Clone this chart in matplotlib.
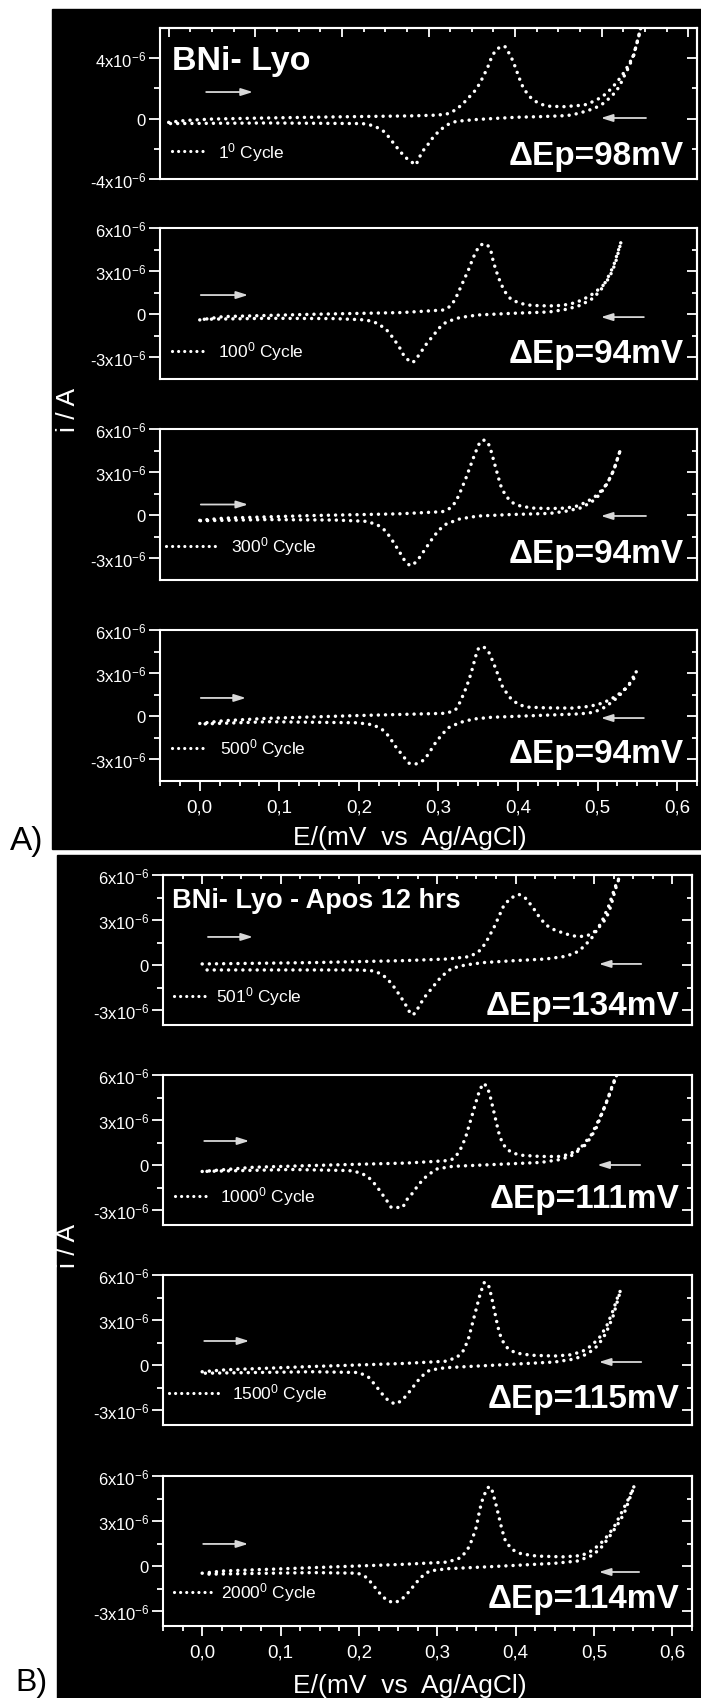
import matplotlib
matplotlib.use("Agg")
import matplotlib.pyplot as plt
from matplotlib import font_manager
from matplotlib.patches import Rectangle
from matplotlib.ticker import FixedLocator, MultipleLocator
import numpy as np

# ---------------------------------------------------------------- fonts
available = {f.name for f in font_manager.fontManager.ttflist}
FONT = 'Liberation Sans Narrow' if 'Liberation Sans Narrow' in available else 'Liberation Sans'
plt.rcParams['font.family'] = [FONT, 'DejaVu Sans']
plt.rcParams['mathtext.fontset'] = 'custom'
plt.rcParams['mathtext.rm'] = FONT
plt.rcParams['mathtext.it'] = FONT
plt.rcParams['mathtext.bf'] = FONT + ':bold'
plt.rcParams['mathtext.default'] = 'regular'

# ---------------------------------------------------------------- data
# cyclic voltammograms: (E / V, i / uA), forward (anodic) then reverse scan
cycles_A = ["1", "100", "300", "500"]
cycles_B = ["501", "1000", "1500", "2000"]
dEp_A = [98, 94, 94, 94]
dEp_B = [134, 111, 115, 114]

fwd_1 = [(0.0, -0.25), (0.02, -0.12), (0.05, -0.03), (0.1, 0.03), (0.2, 0.12), (0.28, 0.18),
         (0.31, 0.23), (0.316, 0.27), (0.323, 0.33), (0.332, 0.6), (0.34, 1.0), (0.348, 1.49),
         (0.355, 1.93), (0.36, 2.42), (0.364, 2.89), (0.368, 3.33), (0.371, 3.82), (0.377, 4.5),
         (0.384, 4.8), (0.389, 4.75), (0.394, 4.22), (0.398, 3.76), (0.401, 3.27), (0.404, 2.82),
         (0.407, 2.33), (0.411, 1.89), (0.4175, 1.42), (0.425, 1.09), (0.433, 0.89), (0.44, 0.82),
         (0.456, 0.79), (0.474, 0.87), (0.482, 0.93), (0.49, 1.13), (0.498, 1.36), (0.506, 1.69),
         (0.514, 2.18), (0.521, 2.67), (0.527, 3.16), (0.532, 3.67), (0.537, 4.2), (0.5405, 5.0),
         (0.545, 6.0)]
rev_1 = [(0.545, 6.0), (0.5425, 5.38), (0.5386, 4.6), (0.535, 3.93), (0.531, 3.38), (0.525, 2.71),
         (0.521, 2.2), (0.516, 1.76), (0.508, 1.31), (0.5, 0.93), (0.4925, 0.71), (0.484, 0.53),
         (0.475, 0.38), (0.4675, 0.27), (0.46, 0.2), (0.452, 0.18), (0.429, 0.13), (0.402, 0.09),
         (0.373, 0.0), (0.353, -0.07), (0.332, -0.18), (0.322, -0.4), (0.314, -0.73), (0.306, -1.18),
         (0.3, -1.67), (0.293, -2.18), (0.288, -2.73), (0.2857, -3.07), (0.2765, -2.73),
         (0.269, -2.29), (0.2625, -1.84), (0.256, -1.36), (0.25, -0.91), (0.242, -0.62),
         (0.234, -0.44), (0.224, -0.33), (0.115, -0.29), (0.0, -0.33)]

fwd_2 = [(0.0, -0.39), (0.0295, -0.16), (0.1416, 0.0), (0.254, 0.12), (0.307, 0.3), (0.3155, 0.58),
         (0.321, 1.04), (0.3267, 1.73), (0.3323, 2.42), (0.338, 3.12), (0.3436, 3.93), (0.3492, 4.55),
         (0.3537, 4.85), (0.3615, 4.85), (0.366, 4.39), (0.3688, 3.7), (0.3727, 3.0), (0.3772, 2.31),
         (0.3828, 1.62), (0.3912, 1.04), (0.4025, 0.76), (0.4165, 0.62), (0.4389, 0.58),
         (0.4558, 0.62), (0.4726, 0.81), (0.4838, 1.09), (0.495, 1.45), (0.5062, 1.96), (0.513, 2.42),
         (0.5186, 3.0), (0.5231, 3.7), (0.527, 4.5), (0.5298, 5.08)]
rev_2 = [(0.5298, 5.08), (0.52, 3.35), (0.5118, 2.42), (0.5034, 1.62), (0.4922, 1.04), (0.4782, 0.62),
         (0.4613, 0.35), (0.4389, 0.16), (0.394, 0.07), (0.349, -0.05), (0.3267, -0.23), (0.31, -0.53),
         (0.3016, -0.92), (0.2931, -1.5), (0.2847, -2.08), (0.2763, -2.77), (0.2696, -3.28),
         (0.2651, -3.35), (0.2567, -2.89), (0.2511, -2.31), (0.2427, -1.62), (0.2342, -1.04),
         (0.223, -0.62), (0.2089, -0.39), (0.1697, -0.3), (0.0856, -0.28), (0.0, -0.35)]

fwd_3 = [(0.0, -0.35), (0.03, -0.2), (0.14, -0.02), (0.25, 0.1), (0.305, 0.25), (0.315, 0.5),
         (0.322, 0.95), (0.328, 1.7), (0.334, 2.5), (0.34, 3.4), (0.346, 4.3), (0.351, 4.95),
         (0.356, 5.25), (0.362, 5.1), (0.366, 4.5), (0.37, 3.7), (0.374, 2.9), (0.378, 2.1),
         (0.384, 1.4), (0.392, 0.9), (0.404, 0.62), (0.42, 0.5), (0.44, 0.47), (0.46, 0.5),
         (0.475, 0.65), (0.487, 0.95), (0.498, 1.35), (0.508, 1.9), (0.516, 2.6), (0.522, 3.4),
         (0.526, 4.1), (0.529, 4.6)]
rev_3 = [(0.529, 4.6), (0.52, 3.1), (0.512, 2.2), (0.503, 1.45), (0.492, 0.9), (0.478, 0.5),
         (0.46, 0.28), (0.44, 0.13), (0.39, 0.05), (0.35, -0.05), (0.327, -0.25), (0.31, -0.6),
         (0.3, -1.05), (0.292, -1.65), (0.284, -2.3), (0.276, -2.95), (0.269, -3.4), (0.264, -3.5),
         (0.257, -3.1), (0.25, -2.45), (0.242, -1.75), (0.234, -1.1), (0.223, -0.65), (0.209, -0.42),
         (0.17, -0.33), (0.085, -0.3), (0.0, -0.38)]

fwd_4 = [(0.0, -0.5), (0.0297, -0.31), (0.0859, -0.14), (0.1981, 0.05), (0.3103, 0.21), (0.3215, 0.45),
         (0.3272, 0.99), (0.3328, 1.7), (0.3384, 2.53), (0.3429, 3.36), (0.3468, 4.18), (0.3507, 4.78),
         (0.358, 4.78), (0.3636, 4.42), (0.3692, 3.71), (0.3749, 2.88), (0.3805, 2.06), (0.3889, 1.35),
         (0.4001, 0.83), (0.4113, 0.64), (0.4338, 0.59), (0.4675, 0.57), (0.4899, 0.69), (0.5067, 0.92),
         (0.518, 1.23), (0.5292, 1.63), (0.5376, 2.06), (0.5449, 2.53), (0.5488, 3.12)]
rev_4 = [(0.5488, 3.12), (0.5404, 2.29), (0.532, 1.7), (0.5208, 1.11), (0.5095, 0.64), (0.4955, 0.28),
         (0.4787, 0.17), (0.4226, 0.05), (0.3664, -0.07), (0.344, -0.19), (0.3272, -0.43), (0.3131, -0.78),
         (0.3047, -1.25), (0.2963, -1.84), (0.289, -2.48), (0.2823, -3.03), (0.2711, -3.33),
         (0.2626, -3.26), (0.2542, -2.67), (0.2458, -2.08), (0.2374, -1.37), (0.229, -0.9),
         (0.2177, -0.59), (0.1981, -0.45), (0.0859, -0.38), (0.0, -0.54)]

fwd_5 = [(0.0, 0.07), (0.1416, 0.16), (0.2558, 0.29), (0.3129, 0.4), (0.3414, 0.56), (0.3528, 0.89),
         (0.3614, 1.44), (0.3671, 2.0), (0.3728, 2.56), (0.3785, 3.22), (0.3842, 3.89), (0.3928, 4.44),
         (0.4042, 4.71), (0.4128, 4.44), (0.4213, 3.89), (0.4299, 3.22), (0.4385, 2.67), (0.4499, 2.33),
         (0.4642, 2.07), (0.4785, 1.89), (0.4899, 1.93), (0.4984, 2.11), (0.507, 2.56), (0.5156, 3.11),
         (0.5213, 3.89), (0.527, 5.0), (0.5327, 5.89)]
rev_5 = [(0.5327, 5.89), (0.527, 5.22), (0.5184, 3.89), (0.5099, 2.89), (0.4984, 1.89), (0.487, 1.22),
         (0.4756, 0.78), (0.4613, 0.56), (0.4385, 0.4), (0.3985, 0.29), (0.3585, 0.16), (0.3357, 0.0),
         (0.3186, -0.22), (0.31, -0.56), (0.3014, -1.0), (0.2929, -1.56), (0.2843, -2.11),
         (0.2775, -2.67), (0.2718, -3.22), (0.2672, -3.33), (0.2644, -3.11), (0.2586, -2.56),
         (0.2518, -2.0), (0.2444, -1.44), (0.2358, -0.89), (0.2272, -0.56), (0.2158, -0.38),
         (0.1987, -0.33), (0.0, -0.33)]

fwd_6 = [(0.0, -0.43), (0.0653, -0.15), (0.163, 0.0), (0.2608, 0.13), (0.3097, 0.28), (0.3194, 0.39),
         (0.3267, 0.78), (0.3316, 1.26), (0.3365, 1.91), (0.3414, 2.78), (0.3463, 3.65), (0.3512, 4.52),
         (0.3546, 5.07), (0.3595, 5.45), (0.3644, 5.13), (0.3683, 4.41), (0.3722, 3.54), (0.3756, 2.78),
         (0.3791, 2.02), (0.383, 1.48), (0.3888, 1.04), (0.3976, 0.78), (0.4074, 0.65), (0.4318, 0.57),
         (0.4563, 0.57), (0.4685, 0.72), (0.4783, 1.0), (0.488, 1.3), (0.4954, 1.8), (0.5027, 2.46),
         (0.51, 3.43), (0.5174, 4.41), (0.5247, 5.5), (0.529, 6.0)]
rev_6 = [(0.529, 6.0), (0.5137, 3.87), (0.504, 2.78), (0.4966, 2.02), (0.4883, 1.48), (0.4795, 0.93),
         (0.4697, 0.57), (0.4551, 0.35), (0.4318, 0.17), (0.3585, 0.0), (0.3194, -0.09), (0.2999, -0.26),
         (0.2901, -0.59), (0.2828, -0.91), (0.2755, -1.35), (0.2682, -1.89), (0.2608, -2.33),
         (0.2559, -2.83), (0.2412, -2.83), (0.2363, -2.43), (0.229, -1.89), (0.2217, -1.35),
         (0.2119, -0.8), (0.2021, -0.52), (0.1874, -0.37), (0.1141, -0.3), (0.0, -0.43)]

fwd_7 = [(0.0, -0.45), (0.03, -0.32), (0.14, -0.1), (0.256, 0.1), (0.31, 0.25), (0.325, 0.5),
         (0.334, 1.0), (0.34, 1.8), (0.345, 2.8), (0.35, 3.8), (0.355, 4.8), (0.36, 5.5), (0.365, 5.4),
         (0.369, 4.6), (0.373, 3.6), (0.377, 2.6), (0.382, 1.7), (0.39, 1.1), (0.4, 0.8), (0.42, 0.65),
         (0.45, 0.6), (0.47, 0.68), (0.485, 0.9), (0.497, 1.3), (0.508, 1.9), (0.517, 2.7),
         (0.524, 3.6), (0.53, 4.5), (0.534, 5.0)]
rev_7 = [(0.534, 5.0), (0.524, 3.2), (0.515, 2.1), (0.505, 1.3), (0.492, 0.75), (0.475, 0.4),
         (0.45, 0.2), (0.37, -0.02), (0.31, -0.18), (0.29, -0.35), (0.279, -0.8), (0.27, -1.4),
         (0.262, -1.95), (0.254, -2.4), (0.246, -2.6), (0.238, -2.4), (0.23, -1.95), (0.221, -1.35),
         (0.212, -0.8), (0.2, -0.5), (0.14, -0.45), (0.0, -0.55)]

fwd_8 = [(0.0, -0.48), (0.0275, -0.33), (0.1416, -0.11), (0.2558, 0.11), (0.3129, 0.26), (0.33, 0.55),
         (0.3386, 1.09), (0.3443, 1.75), (0.35, 2.63), (0.354, 3.72), (0.3586, 4.6), (0.3643, 5.21),
         (0.3671, 5.3), (0.37, 5.03), (0.3746, 4.16), (0.3786, 3.28), (0.3826, 2.41), (0.3871, 1.64),
         (0.3957, 1.09), (0.4071, 0.81), (0.4271, 0.66), (0.4614, 0.61), (0.4842, 0.7), (0.4956, 0.98),
         (0.507, 1.42), (0.5184, 2.08), (0.527, 2.74), (0.5356, 3.61), (0.5441, 4.49), (0.5515, 5.36)]
rev_8 = [(0.5515, 5.36), (0.5384, 3.5), (0.5298, 2.74), (0.5184, 1.86), (0.507, 1.09), (0.4956, 0.66),
         (0.4785, 0.33), (0.4499, 0.18), (0.37, -0.04), (0.3129, -0.18), (0.2901, -0.33), (0.2787, -0.77),
         (0.2701, -1.31), (0.2615, -1.86), (0.253, -2.3), (0.2444, -2.45), (0.2358, -2.3),
         (0.2272, -1.86), (0.2187, -1.31), (0.2101, -0.77), (0.1987, -0.48), (0.1416, -0.44), (0.0, -0.55)]

x_tick_values = [0.0, 0.1, 0.2, 0.3, 0.4, 0.5, 0.6]
x_tick_labels = ["0,0", "0,1", "0,2", "0,3", "0,4", "0,5", "0,6"]
y_ticks_top = [-4e-6, 0.0, 4e-6]
y_labels_top = ["-4x10$^{-6}$", "0", "4x10$^{-6}$"]
y_ticks = [-3e-6, 0.0, 3e-6, 6e-6]
y_labels = ["-3x10$^{-6}$", "0", "3x10$^{-6}$", "6x10$^{-6}$"]

# ---------------------------------------------------------------- layout
W, H = 701, 1699
fig = plt.figure(figsize=(W / 100, H / 100), dpi=100)
fig.patch.set_facecolor('white')
fig.add_artist(Rectangle((52 / W, 1 - 850 / H), (W - 52) / W, 840 / H,
                         transform=fig.transFigure, color='black', zorder=0))
fig.add_artist(Rectangle((57 / W, 0), (W - 57) / W, (H - 856) / H,
                         transform=fig.transFigure, color='black', zorder=0))

FG = 'white'
ARROW = '#d8d8d8'
dot_style = dict(color=FG, lw=2.5, linestyle=(0, (0.01, 2.05)), dash_capstyle='round')


def make_axes(x0, y0, x1, y1):
    ax = fig.add_axes([x0 / W, 1 - y1 / H, (x1 - x0) / W, (y1 - y0) / H])
    ax.set_facecolor('black')
    for s in ax.spines.values():
        s.set_color(FG)
        s.set_linewidth(1.5)
    return ax


def draw_panel(ax, fwd, rev, cycle, dEp, xlim, ylim, yt, yl, ymin, arrows, legend, dep_y,
               top_ticks=False, bottom_ticks=False):
    E = [p[0] for p in fwd] + [p[0] for p in rev[1:]]
    cur = [p[1] * 1e-6 for p in fwd] + [p[1] * 1e-6 for p in rev[1:]]
    ax.plot(E, cur, **dot_style)
    ax.set_xlim(*xlim)
    ax.set_ylim(*ylim)

    # left axis: outward ticks with labels
    ax.yaxis.set_major_locator(FixedLocator(yt))
    ax.yaxis.set_minor_locator(FixedLocator(ymin))
    ax.set_yticklabels(yl)
    ax.tick_params(axis='y', which='major', direction='out', length=8, width=1.3,
                   colors=FG, labelsize=12, pad=2)
    ax.tick_params(axis='y', which='minor', direction='out', length=4.5, width=1.3, colors=FG)

    # right axis: inward ticks
    sec = ax.secondary_yaxis('right')
    sec.yaxis.set_major_locator(FixedLocator(yt))
    sec.yaxis.set_minor_locator(FixedLocator(ymin))
    sec.tick_params(which='major', direction='in', length=7, width=1.3, colors=FG, labelright=False)
    sec.tick_params(which='minor', direction='in', length=3.5, width=1.3, colors=FG)
    sec.spines['right'].set_color(FG)
    sec.spines['right'].set_linewidth(1.5)

    # x axis
    if bottom_ticks:
        ax.xaxis.set_major_locator(FixedLocator(x_tick_values))
        ax.set_xticklabels(x_tick_labels)
        ax.xaxis.set_minor_locator(MultipleLocator(0.025))
        ax.tick_params(axis='x', which='major', direction='out', length=7.5, width=1.3,
                       colors=FG, labelsize=13.5, pad=5)
        ax.tick_params(axis='x', which='minor', direction='out', length=3.5, width=1.3, colors=FG)
    else:
        ax.tick_params(axis='x', which='both', bottom=False, labelbottom=False)
    if top_ticks:
        top = ax.secondary_xaxis('top')
        top.xaxis.set_major_locator(FixedLocator(x_tick_values))
        top.xaxis.set_minor_locator(MultipleLocator(0.025))
        top.tick_params(which='major', direction='in', length=6.5, width=1.3, colors=FG, labeltop=False)
        top.tick_params(which='minor', direction='in', length=3, width=1.3, colors=FG)
        top.spines['top'].set_color(FG)
        top.spines['top'].set_linewidth(1.5)

    # scan-direction arrows
    (fx0, fx1, fy), (rx0, rx1, ry) = arrows
    for a0, a1, yy in ((fx0, fx1, fy), (rx0, rx1, ry)):
        ax.annotate('', xy=(a1, yy), xytext=(a0, yy), xycoords='axes fraction',
                    arrowprops=dict(arrowstyle='-|>,head_length=0.7,head_width=0.22',
                                    color=ARROW, lw=1.3, shrinkA=0, shrinkB=0))

    # legend entry
    lx0, lx1, tx, ly = legend
    ax.plot([lx0, lx1], [ly, ly], transform=ax.transAxes,
            color=FG, lw=2.3, linestyle=(0, (0.01, 1.9)), dash_capstyle='round', clip_on=False)
    ax.text(tx, ly, cycle + "$^{0}$ Cycle", transform=ax.transAxes, color=FG,
            fontsize=12.5, ha='left', va='center')

    ax.text(0.976, dep_y, "\u0394Ep=%dmV" % dEp, transform=ax.transAxes, color=FG,
            fontsize=24, fontweight='bold', ha='right', va='baseline')


# ---------------------------------------------------------------- block A
tops_A = [29, 229, 430, 631]
data_A = [(fwd_1, rev_1), (fwd_2, rev_2), (fwd_3, rev_3), (fwd_4, rev_4)]
arrows_A = [((0.086, 0.173, 0.576), (0.905, 0.821, 0.404)),
            ((0.076, 0.164, 0.556), (0.901, 0.821, 0.41)),
            ((0.076, 0.164, 0.50), (0.905, 0.821, 0.424)),
            ((0.076, 0.160, 0.55), (0.901, 0.821, 0.417))]
legend_A = [(0.022, 0.082, 0.108, 0.185), (0.022, 0.082, 0.108, 0.187),
            (0.012, 0.112, 0.132, 0.225), (0.022, 0.082, 0.112, 0.22)]
dep_A = [0.10, 0.113, 0.12, 0.125]
for k in range(4):
    ax = make_axes(160, tops_A[k], 697, tops_A[k] + 151)
    if k == 0:
        draw_panel(ax, *data_A[k], cycles_A[k], dEp_A[k], (-0.01, 0.61), (-4e-6, 6e-6),
                   y_ticks_top, y_labels_top, [-2e-6, 2e-6], arrows_A[k], legend_A[k],
                   dep_A[k], top_ticks=True)
        ax.text(0.022, 0.73, "BNi- Lyo", transform=ax.transAxes, color=FG, fontsize=24.5,
                fontweight='bold', ha='left', va='baseline')
    else:
        draw_panel(ax, *data_A[k], cycles_A[k], dEp_A[k], (-0.05, 0.625), (-4.5e-6, 6e-6),
                   y_ticks, y_labels, [-1.5e-6, 1.5e-6, 4.5e-6], arrows_A[k], legend_A[k],
                   dep_A[k], bottom_ticks=(k == 3))

# ---------------------------------------------------------------- block B
tops_B = [876, 1076, 1276, 1477]
data_B = [(fwd_5, rev_5), (fwd_6, rev_6), (fwd_7, rev_7), (fwd_8, rev_8)]
arrows_B = [((0.085, 0.170, 0.587), (0.904, 0.824, 0.407)),
            ((0.078, 0.163, 0.56), (0.902, 0.821, 0.40)),
            ((0.078, 0.163, 0.56), (0.904, 0.824, 0.42)),
            ((0.076, 0.161, 0.547), (0.900, 0.824, 0.36))]
legend_B = [(0.021, 0.081, 0.1, 0.193), (0.022, 0.09, 0.107, 0.195),
            (0.012, 0.114, 0.13, 0.213), (0.02, 0.09, 0.11, 0.23)]
dep_B = [0.075, 0.12, 0.12, 0.127]
for k in range(4):
    ax = make_axes(163, tops_B[k], 692, tops_B[k] + 150)
    draw_panel(ax, *data_B[k], cycles_B[k], dEp_B[k], (-0.05, 0.625), (-4e-6, 6e-6),
               y_ticks, y_labels, [-1.5e-6, 1.5e-6, 4.5e-6], arrows_B[k], legend_B[k],
               dep_B[k], top_ticks=(k == 0), bottom_ticks=(k == 3))
    if k == 0:
        ax.text(0.017, 0.787, "BNi- Lyo - Apos 12 hrs", transform=ax.transAxes, color=FG,
                fontsize=19.5, fontweight='bold', ha='left', va='baseline')

# ---------------------------------------------------------------- shared labels
for yc in (410, 1246):
    fig.text(68 / W, 1 - yc / H, "i / A", rotation=90, color=FG, fontsize=19,
             ha='center', va='center')
for yc in (838, 1686):
    fig.text(410 / W, 1 - yc / H, "E/(mV  vs  Ag/AgCl)", color=FG, fontsize=19,
             ha='center', va='center')
fig.text(27 / W, 1 - 842 / H, "A)", color='black', fontsize=24, ha='center', va='center')
fig.text(31 / W, 1 - 1683 / H, "B)", color='black', fontsize=23, ha='center', va='center')

fig.savefig("out.png", dpi=100, facecolor='white')
